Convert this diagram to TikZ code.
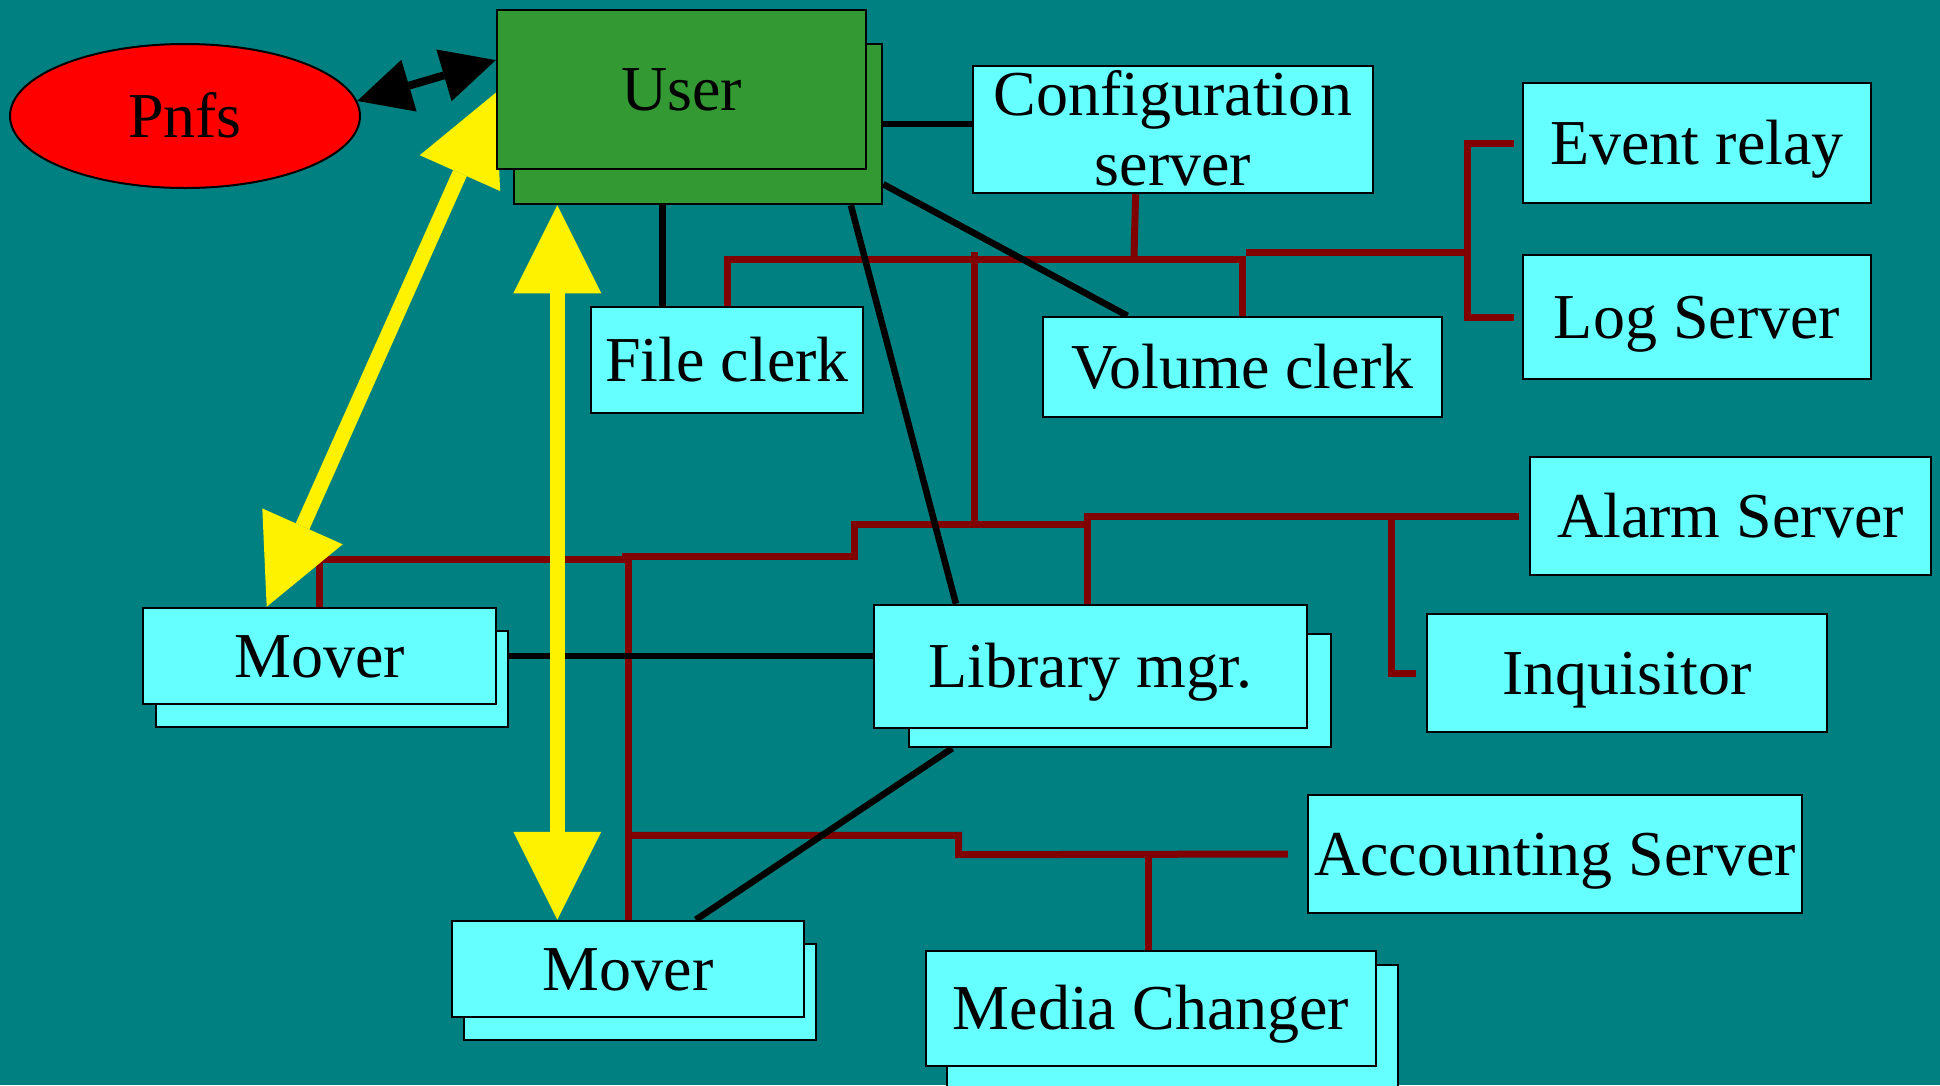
\documentclass[tikz,border=0pt]{standalone}
\usepackage{fontspec}
\setmainfont{Liberation Serif}
\usetikzlibrary{shapes.geometric,arrows.meta}
\definecolor{bg}{RGB}{0,128,128}
\definecolor{boxcyan}{RGB}{102,255,255}
\definecolor{usergreen}{RGB}{51,153,51}
\definecolor{busred}{RGB}{128,0,0}
\pgfdeclarelayer{bgl}
\pgfdeclarelayer{wires}
\pgfsetlayers{bgl,wires,main}
\begin{document}
\begin{tikzpicture}[x=1pt,y=-1pt,
  box/.style={draw,line width=2.5pt,fill=boxcyan,inner sep=0pt,
    font=\fontsize{64}{70}\selectfont,text height=42pt,text depth=0pt},
  back/.style={draw,line width=2.5pt,fill=boxcyan,inner sep=0pt},
  bus/.style={busred,line width=7pt},
  wire/.style={line width=6.5pt},
  big/.style={yellow,line width=15pt,
    {Triangle[length=88pt,width=88pt,line width=0pt]}-{Triangle[length=88pt,width=88pt,line width=0pt]}}]
\useasboundingbox(0,0)rectangle(1940,1085);
\clip(0,0)rectangle(1940,1085);
\begin{pgfonlayer}{bgl}
\fill[bg](0,0)rectangle(1940,1085);
\end{pgfonlayer}
%
\node[back,fill=usergreen,minimum width=368pt,minimum height=160pt](userback)at(698,124){};
\node[box,fill=usergreen,minimum width=369pt,minimum height=159pt](user)at(681.5,89.5){User};
\node[box,ellipse,fill=red,line width=2pt,minimum width=350pt,minimum height=144pt](pnfs)at(185,116){Pnfs};
\node[box,align=center,text height=112pt,minimum width=400pt,minimum height=127pt](config)at(1173,129.5){Configuration\\server};
\node[box,minimum width=348pt,minimum height=120pt](evrelay)at(1697,143){Event relay};
\node[box,minimum width=348pt,minimum height=124pt](logsrv)at(1697,317){Log Server};
\node[box,minimum width=272pt,minimum height=106pt](fileclerk)at(727,360){File clerk};
\node[box,minimum width=399pt,minimum height=100pt](volclerk)at(1242.5,367){Volume clerk};
\node[back,minimum width=352pt,minimum height=96pt](mover1back)at(332,679){};
\node[box,minimum width=353pt,minimum height=96pt](mover1)at(319.5,656){Mover};
\node[back,minimum width=352pt,minimum height=96pt](mover2back)at(640,992){};
\node[box,minimum width=352pt,minimum height=96pt](mover2)at(628,969){Mover};
\node[back,minimum width=422pt,minimum height=113pt](libback)at(1120,690.5){};
\node[box,minimum width=433pt,minimum height=123pt](lib)at(1090.5,666.5){Library mgr.};
\node[box,minimum width=401pt,minimum height=118pt](alarm)at(1730.5,516){Alarm Server};
\node[box,minimum width=400pt,minimum height=118pt](inq)at(1627,673){Inquisitor};
\node[box,minimum width=494pt,minimum height=118pt](acct)at(1555,854){Accounting Server};
\node[back,minimum width=451pt,minimum height=145pt](mchangerback)at(1172.5,1037.5){};
\node[box,minimum width=450pt,minimum height=115pt](mchanger)at(1151,1008.5){Media Changer};
%
\begin{pgfonlayer}{wires}
% red bus
\coordinate(bus1)at(974,259.5);
\coordinate(bus2)at(1246,252.5);
\coordinate(relayx)at(1467,252.5);
\coordinate(cfgtap)at(1134,256);
\coordinate(libbus)at(854,524);
\coordinate(m1bus)at(628,559.5);
\coordinate(m2bus)at(622,556);
\coordinate(inqtap)at(1391,516);
\coordinate(accbus)at(628,835.3);
\coordinate(accstep)at(958.5,854.7);
\draw[bus](fileclerk.north)--(fileclerk.north|-bus1)-|(volclerk.north);
\draw[bus](config.240.4)--(cfgtap);
\draw[bus](bus2)--(relayx);
\draw[bus]([xshift=-8pt]evrelay.west)-|(relayx|-logsrv.west)--([xshift=-8pt]logsrv.west);
\draw[bus](974,252)--(bus1|-libbus);
\draw[bus](mover1.north)|-(m1bus);
\draw[bus](mover2.north)--(mover2.north|-m2bus);
\draw[bus](m2bus)-|(libbus)--([xshift=-3.5pt]lib.north|-libbus);
\draw[bus]([xshift=-3.5pt]lib.north)|-([xshift=-10pt]alarm.west);
\draw[bus](inqtap)|-([xshift=-10pt]inq.west);
\draw[bus](accbus)-|(accstep)--([xshift=-19pt]acct.west);
\draw[bus]([xshift=-2.5pt]mchanger.north)--([xshift=-2.5pt]mchanger.north|-acct.west);
% black wires
\draw[wire](userback.east)--(userback.east-|config.west);
\draw[wire](fileclerk.140.6)--(fileclerk.140.6|-userback.south);
\draw[wire](userback.-28.7)--(lib.155.1);
\draw[wire](userback.-18.9)--(volclerk.156.9);
\draw[wire](mover1.east-|mover1back.east)--(mover1.east-|lib.west);
\draw[wire](libback.199.2)--(mover2.36.9);
% yellow arrows
\draw[big](mover1.137.6)--(user.181);
\draw[big](userback.210.1)--(userback.210.1|-mover2.north);
\draw[line width=8pt,{Triangle[length=54pt,width=54pt,line width=0pt]}-{Triangle[length=54pt,width=54pt,line width=0pt]}](pnfs.5)--(user.171.4);
\end{pgfonlayer}
\end{tikzpicture}
\end{document}
